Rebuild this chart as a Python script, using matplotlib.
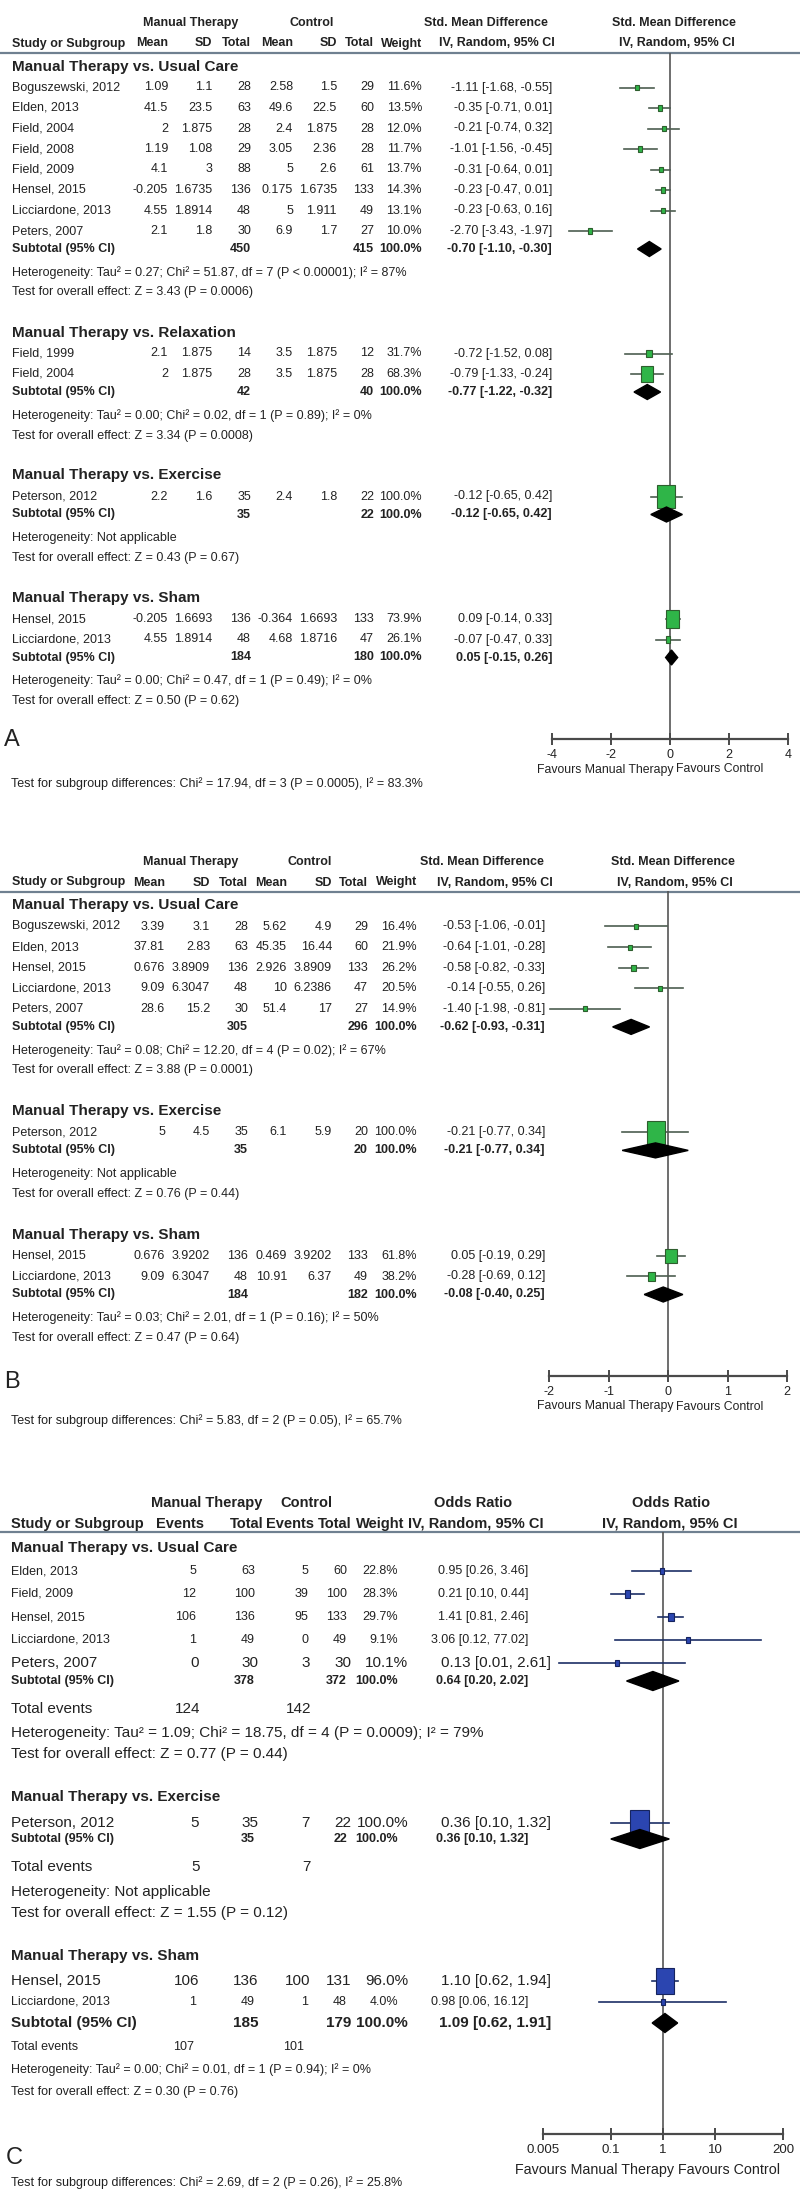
import matplotlib
matplotlib.use("Agg")
import matplotlib.pyplot as plt
from matplotlib.patches import Rectangle, Polygon
from matplotlib.ticker import NullLocator
import numpy as np

plt.rcParams['font.family'] = ['Liberation Sans', 'DejaVu Sans']

W, H = 800, 2190
TXT = '#222222'

# ---------------- panel A : std. mean difference ----------------
a_groups = ["Manual Therapy vs. Usual Care", "Manual Therapy vs. Relaxation",
            "Manual Therapy vs. Exercise", "Manual Therapy vs. Sham"]
a_study = [["Boguszewski, 2012", "Elden, 2013", "Field, 2004", "Field, 2008", "Field, 2009",
            "Hensel, 2015", "Licciardone, 2013", "Peters, 2007"],
           ["Field, 1999", "Field, 2004"], ["Peterson, 2012"], ["Hensel, 2015", "Licciardone, 2013"]]
a_m1 = [[1.09, 41.5, 2, 1.19, 4.1, -0.205, 4.55, 2.1], [2.1, 2], [2.2], [-0.205, 4.55]]
a_s1 = [[1.1, 23.5, 1.875, 1.08, 3, 1.6735, 1.8914, 1.8], [1.875, 1.875], [1.6], [1.6693, 1.8914]]
a_n1 = [[28, 63, 28, 29, 88, 136, 48, 30], [14, 28], [35], [136, 48]]
a_m2 = [[2.58, 49.6, 2.4, 3.05, 5, 0.175, 5, 6.9], [3.5, 3.5], [2.4], [-0.364, 4.68]]
a_s2 = [[1.5, 22.5, 1.875, 2.36, 2.6, 1.6735, 1.911, 1.7], [1.875, 1.875], [1.8], [1.6693, 1.8716]]
a_n2 = [[29, 60, 28, 28, 61, 133, 49, 27], [12, 28], [22], [133, 47]]
a_w = [[11.6, 13.5, 12.0, 11.7, 13.7, 14.3, 13.1, 10.0], [31.7, 68.3], [100.0], [73.9, 26.1]]
a_est = [[-1.11, -0.35, -0.21, -1.01, -0.31, -0.23, -0.23, -2.70], [-0.72, -0.79], [-0.12], [0.09, -0.07]]
a_lo = [[-1.68, -0.71, -0.74, -1.56, -0.64, -0.47, -0.63, -3.43], [-1.52, -1.33], [-0.65], [-0.14, -0.47]]
a_hi = [[-0.55, 0.01, 0.32, -0.45, 0.01, 0.01, 0.16, -1.97], [0.08, -0.24], [0.42], [0.33, 0.33]]
a_sub_n1 = [450, 42, 35, 184]
a_sub_n2 = [415, 40, 22, 180]
a_sub_est = [-0.70, -0.77, -0.12, 0.05]
a_sub_lo = [-1.10, -1.22, -0.65, -0.15]
a_sub_hi = [-0.30, -0.32, 0.42, 0.26]
a_het = ["Heterogeneity: Tau² = 0.27; Chi² = 51.87, df = 7 (P < 0.00001); I² = 87%",
         "Heterogeneity: Tau² = 0.00; Chi² = 0.02, df = 1 (P = 0.89); I² = 0%",
         "Heterogeneity: Not applicable",
         "Heterogeneity: Tau² = 0.00; Chi² = 0.47, df = 1 (P = 0.49); I² = 0%"]
a_z = ["Test for overall effect: Z = 3.43 (P = 0.0006)", "Test for overall effect: Z = 3.34 (P = 0.0008)",
       "Test for overall effect: Z = 0.43 (P = 0.67)", "Test for overall effect: Z = 0.50 (P = 0.62)"]
a_diff = "Test for subgroup differences: Chi² = 17.94, df = 3 (P = 0.0005), I² = 83.3%"
a_ticks = [-4, -2, 0, 2, 4]

# ---------------- panel B : std. mean difference ----------------
b_groups = ["Manual Therapy vs. Usual Care", "Manual Therapy vs. Exercise", "Manual Therapy vs. Sham"]
b_study = [["Boguszewski, 2012", "Elden, 2013", "Hensel, 2015", "Licciardone, 2013", "Peters, 2007"],
           ["Peterson, 2012"], ["Hensel, 2015", "Licciardone, 2013"]]
b_m1 = [[3.39, 37.81, 0.676, 9.09, 28.6], [5], [0.676, 9.09]]
b_s1 = [[3.1, 2.83, 3.8909, 6.3047, 15.2], [4.5], [3.9202, 6.3047]]
b_n1 = [[28, 63, 136, 48, 30], [35], [136, 48]]
b_m2 = [[5.62, 45.35, 2.926, 10, 51.4], [6.1], [0.469, 10.91]]
b_s2 = [[4.9, 16.44, 3.8909, 6.2386, 17], [5.9], [3.9202, 6.37]]
b_n2 = [[29, 60, 133, 47, 27], [20], [133, 49]]
b_w = [[16.4, 21.9, 26.2, 20.5, 14.9], [100.0], [61.8, 38.2]]
b_est = [[-0.53, -0.64, -0.58, -0.14, -1.40], [-0.21], [0.05, -0.28]]
b_lo = [[-1.06, -1.01, -0.82, -0.55, -1.98], [-0.77], [-0.19, -0.69]]
b_hi = [[-0.01, -0.28, -0.33, 0.26, -0.81], [0.34], [0.29, 0.12]]
b_sub_n1 = [305, 35, 184]
b_sub_n2 = [296, 20, 182]
b_sub_est = [-0.62, -0.21, -0.08]
b_sub_lo = [-0.93, -0.77, -0.40]
b_sub_hi = [-0.31, 0.34, 0.25]
b_het = ["Heterogeneity: Tau² = 0.08; Chi² = 12.20, df = 4 (P = 0.02); I² = 67%",
         "Heterogeneity: Not applicable",
         "Heterogeneity: Tau² = 0.03; Chi² = 2.01, df = 1 (P = 0.16); I² = 50%"]
b_z = ["Test for overall effect: Z = 3.88 (P = 0.0001)", "Test for overall effect: Z = 0.76 (P = 0.44)",
       "Test for overall effect: Z = 0.47 (P = 0.64)"]
b_diff = "Test for subgroup differences: Chi² = 5.83, df = 2 (P = 0.05), I² = 65.7%"
b_ticks = [-2, -1, 0, 1, 2]

# ---------------- panel C : odds ratio ----------------
c_groups = ["Manual Therapy vs. Usual Care", "Manual Therapy vs. Exercise", "Manual Therapy vs. Sham"]
c_study = [["Elden, 2013", "Field, 2009", "Hensel, 2015", "Licciardone, 2013", "Peters, 2007"],
           ["Peterson, 2012"], ["Hensel, 2015", "Licciardone, 2013"]]
c_e1 = [[5, 12, 106, 1, 0], [5], [106, 1]]
c_n1 = [[63, 100, 136, 49, 30], [35], [136, 49]]
c_e2 = [[5, 39, 95, 0, 3], [7], [100, 1]]
c_n2 = [[60, 100, 133, 49, 30], [22], [131, 48]]
c_w = [[22.8, 28.3, 29.7, 9.1, 10.1], [100.0], [96.0, 4.0]]
c_or = [[0.95, 0.21, 1.41, 3.06, 0.13], [0.36], [1.10, 0.98]]
c_lo = [[0.26, 0.10, 0.81, 0.12, 0.01], [0.10], [0.62, 0.06]]
c_hi = [[3.46, 0.44, 2.46, 77.02, 2.61], [1.32], [1.94, 16.12]]
c_sub_n1 = [378, 35, 185]
c_sub_n2 = [372, 22, 179]
c_sub_or = [0.64, 0.36, 1.09]
c_sub_lo = [0.20, 0.10, 0.62]
c_sub_hi = [2.02, 1.32, 1.91]
c_tot1 = [124, 5, 107]
c_tot2 = [142, 7, 101]
c_het = ["Heterogeneity: Tau² = 1.09; Chi² = 18.75, df = 4 (P = 0.0009); I² = 79%",
         "Heterogeneity: Not applicable",
         "Heterogeneity: Tau² = 0.00; Chi² = 0.01, df = 1 (P = 0.94); I² = 0%"]
c_z = ["Test for overall effect: Z = 0.77 (P = 0.44)", "Test for overall effect: Z = 1.55 (P = 0.12)",
       "Test for overall effect: Z = 0.30 (P = 0.76)"]
c_diff = "Test for subgroup differences: Chi² = 2.69, df = 2 (P = 0.26), I² = 25.8%"
c_ticks = [0.005, 0.1, 1, 10, 200]


fig = plt.figure(figsize=(W / 100, H / 100), dpi=100)
bg = fig.add_axes([0, 0, 1, 1])
bg.set_xlim(0, W)
bg.set_ylim(H, 0)
bg.axis('off')


def txt(x, y, s, size=9, ha='left', bold=False):
    bg.text(x, y, s, fontsize=size, ha=ha, va='center', color=TXT,
            fontweight='bold' if bold else 'normal')


def forest_axes(x0, x1, y0, y1, xlim, ticks, log=False, labelsize=9):
    ax = fig.add_axes([x0 / W, 1 - y1 / H, (x1 - x0) / W, (y1 - y0) / H])
    ax.set_facecolor('none')
    if log:
        ax.set_xscale('log')
    ax.set_xlim(*xlim)
    ax.set_ylim(y1, y0)
    for s in ('top', 'right', 'left'):
        ax.spines[s].set_visible(False)
    ax.spines['bottom'].set_color('#4a4a4a')
    ax.spines['bottom'].set_linewidth(1.6)
    ax.set_yticks([])
    ax.set_xticks(ticks)
    ax.set_xticklabels([str(t) for t in ticks])
    ax.xaxis.set_minor_locator(NullLocator())
    ax.tick_params(axis='x', direction='inout', length=9, width=1.4, color='#4a4a4a',
                   labelsize=labelsize, pad=3, labelcolor=TXT)
    ax.axvline(1 if log else 0, color='#555555', lw=1.2, zorder=1)
    ax.px = x1 - x0
    ax.log = log
    return ax


def span(ax, x, half_px):
    a, b = ax.get_xlim()
    if ax.log:
        f = 10 ** (half_px * (np.log10(b) - np.log10(a)) / ax.px)
        return x / f, x * f
    d = half_px * (b - a) / ax.px
    return x - d, x + d


def study_mark(ax, y, est, lo, hi, w, k, ratio, line_c, face, edge):
    ax.plot([lo, hi], [y, y], color=line_c, lw=1.2, zorder=2, clip_on=False)
    wpx = max(4.0, k * w)
    hpx = max(4.0, ratio * wpx)
    l, r = span(ax, est, wpx / 2)
    ax.add_patch(Rectangle((l, y - hpx / 2), r - l, hpx, facecolor=face, edgecolor=edge,
                           lw=0.8, zorder=3, clip_on=False))


def diamond(ax, y, est, lo, hi, h):
    ax.add_patch(Polygon([(lo, y), (est, y - h / 2), (hi, y), (est, y + h / 2)],
                         closed=True, facecolor='black', edgecolor='black', zorder=4, clip_on=False))


def smd_panel(top, cols, hcols, groups, study, m1, s1, n1, m2, s2, n2, wt, est, lo, hi,
              sn1, sn2, sest, slo, shi, het, zt, diff, ticks, fx, step, ggap, letter):
    # column headings
    txt(hcols[0], top, "Manual Therapy", ha='center', bold=True)
    txt(hcols[1], top, "Control", ha='center', bold=True)
    txt(hcols[2], top, "Std. Mean Difference", ha='center', bold=True)
    txt(hcols[3], top, "Std. Mean Difference", ha='center', bold=True)
    y2 = top + 20.5
    txt(12, y2, "Study or Subgroup", bold=True)
    for lab, x in zip(["Mean", "SD", "Total", "Mean", "SD", "Total", "Weight"], cols[:7]):
        txt(x, y2, lab, ha='right', bold=True)
    txt(hcols[4], y2, "IV, Random, 95% CI", ha='center', bold=True)
    txt(hcols[5], y2, "IV, Random, 95% CI", ha='center', bold=True)
    line_y = top + 29.5
    bg.plot([0, W], [line_y, line_y], color='#6f8090', lw=1.6)

    y = top + 43.5
    rows = []
    for g in range(len(groups)):
        txt(12, y, groups[g], size=11, bold=True)
        y += 21
        for i in range(len(study[g])):
            vals = [m1[g][i], s1[g][i], n1[g][i], m2[g][i], s2[g][i], n2[g][i]]
            txt(12, y, study[g][i])
            for v, x in zip(vals, cols[:6]):
                txt(x, y, str(v), ha='right')
            txt(cols[6], y, f"{wt[g][i]:.1f}%", ha='right')
            txt(cols[7], y, f"{est[g][i]:.2f} [{lo[g][i]:.2f}, {hi[g][i]:.2f}]", ha='right')
            rows.append(('s', y, est[g][i], lo[g][i], hi[g][i], wt[g][i]))
            y += step
        y += 18 - step
        txt(12, y, "Subtotal (95% CI)", bold=True)
        txt(cols[2], y, str(sn1[g]), ha='right', bold=True)
        txt(cols[5], y, str(sn2[g]), ha='right', bold=True)
        txt(cols[6], y, "100.0%", ha='right', bold=True)
        txt(cols[7], y, f"{sest[g]:.2f} [{slo[g]:.2f}, {shi[g]:.2f}]", ha='right', bold=True)
        rows.append(('d', y, sest[g], slo[g], shi[g], 0))
        y += 23.5
        txt(12, y, het[g])
        y += 20
        txt(12, y, zt[g])
        last = y
        y += ggap

    axis_y = last + 37.5
    ax = forest_axes(fx[0], fx[1], line_y, axis_y, (ticks[0], ticks[-1]), ticks)
    for kind, ry, e, l, h, w in rows:
        if kind == 's':
            study_mark(ax, ry, e, l, h, w, 0.18, 1.28, '#4d5d50', '#2fb548', '#2e5e2e')
        else:
            diamond(ax, ry, e, l, h, 15)
    txt(537, axis_y + 31, "Favours Manual Therapy", size=8.8)
    txt(763, axis_y + 31, "Favours Control", size=8.8, ha='right')
    txt(4, axis_y + 1 + (5 if letter == 'B' else 0), letter, size=17)
    txt(11, axis_y + 45, diff)


smd_panel(23, [168, 212, 251, 293, 337, 374, 422, 552], [191, 312, 486, 674, 497, 677],
          a_groups, a_study, a_m1, a_s1, a_n1, a_m2, a_s2, a_n2, a_w, a_est, a_lo, a_hi,
          a_sub_n1, a_sub_n2, a_sub_est, a_sub_lo, a_sub_hi, a_het, a_z, a_diff, a_ticks,
          (552, 788), 20.5, 40, 'A')

smd_panel(862, [165, 210, 248, 287, 332, 368, 417, 545], [191, 310, 482, 673, 495, 675],
          b_groups, b_study, b_m1, b_s1, b_n1, b_m2, b_s2, b_n2, b_w, b_est, b_lo, b_hi,
          b_sub_n1, b_sub_n2, b_sub_est, b_sub_lo, b_sub_hi, b_het, b_z, b_diff, b_ticks,
          (549, 787), 20.6, 41, 'B')

# ---------------- panel C layout ----------------
ctop = 1503
txt(207, ctop, "Manual Therapy", size=10.5, ha='center', bold=True)
txt(306, ctop, "Control", size=10.5, ha='center', bold=True)
txt(473, ctop, "Odds Ratio", size=10.5, ha='center', bold=True)
txt(671, ctop, "Odds Ratio", size=10.5, ha='center', bold=True)
txt(11, ctop + 21, "Study or Subgroup", size=10.5, bold=True)
for lab, x in zip(["Events", "Total", "Events", "Total", "Weight"], [204, 263, 314, 351, 404]):
    txt(x, ctop + 21, lab, size=10.5, ha='right', bold=True)
txt(408, ctop + 21, "IV, Random, 95% CI", size=10.5, bold=True)
txt(670, ctop + 21, "IV, Random, 95% CI", size=10.5, ha='center', bold=True)
c_line = ctop + 29
bg.plot([0, W], [c_line, c_line], color='#6f8090', lw=1.6)

small_cols = [196, 255, 308, 347, 398, 528]
big_cols = [199, 258, 310, 351, 408, 551]
# per group: first, step, subtotal, total events, heterogeneity, overall
c_gaps = [(23, 23, 18, 28, 24, 21), (26, 0, 16, 28, 25, 21), (25, 21, 21, 24, 23, 22)]
c_big_study = [[False, False, False, False, True], [True], [True, False]]
c_big_sub = [False, False, True]
c_big_tail = [True, True, False]

crow = []
y = ctop + 45
for g in range(len(c_groups)):
    first, step, gsub, gtot, ghet, gz = c_gaps[g]
    txt(11, y, c_groups[g], size=11, bold=True)
    y += first
    for i in range(len(c_study[g])):
        big = c_big_study[g][i]
        cols = big_cols if big else small_cols
        sz = 11 if big else 9
        txt(11, y, c_study[g][i], size=sz)
        for v, x in zip([c_e1[g][i], c_n1[g][i], c_e2[g][i], c_n2[g][i]], cols[:4]):
            txt(x, y, str(v), size=sz, ha='right')
        txt(cols[4], y, f"{c_w[g][i]:.1f}%", size=sz, ha='right')
        txt(cols[5], y, f"{c_or[g][i]:.2f} [{c_lo[g][i]:.2f}, {c_hi[g][i]:.2f}]", size=sz, ha='right')
        crow.append(('s', y, c_or[g][i], c_lo[g][i], c_hi[g][i], c_w[g][i]))
        y += step
    y += gsub - step
    big = c_big_sub[g]
    cols = big_cols if big else small_cols
    sz = 11 if big else 9
    txt(11, y, "Subtotal (95% CI)", size=sz, bold=True)
    txt(cols[1], y, str(c_sub_n1[g]), size=sz, ha='right', bold=True)
    txt(cols[3], y, str(c_sub_n2[g]), size=sz, ha='right', bold=True)
    txt(cols[4], y, "100.0%", size=sz, ha='right', bold=True)
    txt(cols[5], y, f"{c_sub_or[g]:.2f} [{c_sub_lo[g]:.2f}, {c_sub_hi[g]:.2f}]", size=sz,
        ha='right', bold=True)
    crow.append(('d', y, c_sub_or[g], c_sub_lo[g], c_sub_hi[g], 0))
    big = c_big_tail[g]
    sz = 11 if big else 9
    y += gtot
    txt(11, y, "Total events", size=sz)
    txt(200 if big else 194, y, str(c_tot1[g]), size=sz, ha='right')
    txt(311 if big else 304, y, str(c_tot2[g]), size=sz, ha='right')
    y += ghet
    txt(11, y, c_het[g], size=sz)
    y += gz
    txt(11, y, c_z[g], size=sz)
    c_last = y
    y += 43

c_axis = c_last + 42
axc = forest_axes(543, 783, c_line, c_axis, (c_ticks[0], c_ticks[-1]), c_ticks, log=True, labelsize=9.5)
for kind, ry, e, l, h, w in crow:
    if kind == 's':
        study_mark(axc, ry, e, l, h, w, 0.19, 1.38, '#1c2f66', '#2b45b0', '#16245e')
    else:
        diamond(axc, ry, e, l, h, 19)
txt(515, c_axis + 36, "Favours Manual Therapy", size=10.3)
txt(780, c_axis + 36, "Favours Control", size=10.3, ha='right')
txt(6, c_axis + 24, "C", size=17)
txt(11, c_axis + 49, c_diff, size=9)

fig.savefig("out.png", dpi=100, facecolor='white')
